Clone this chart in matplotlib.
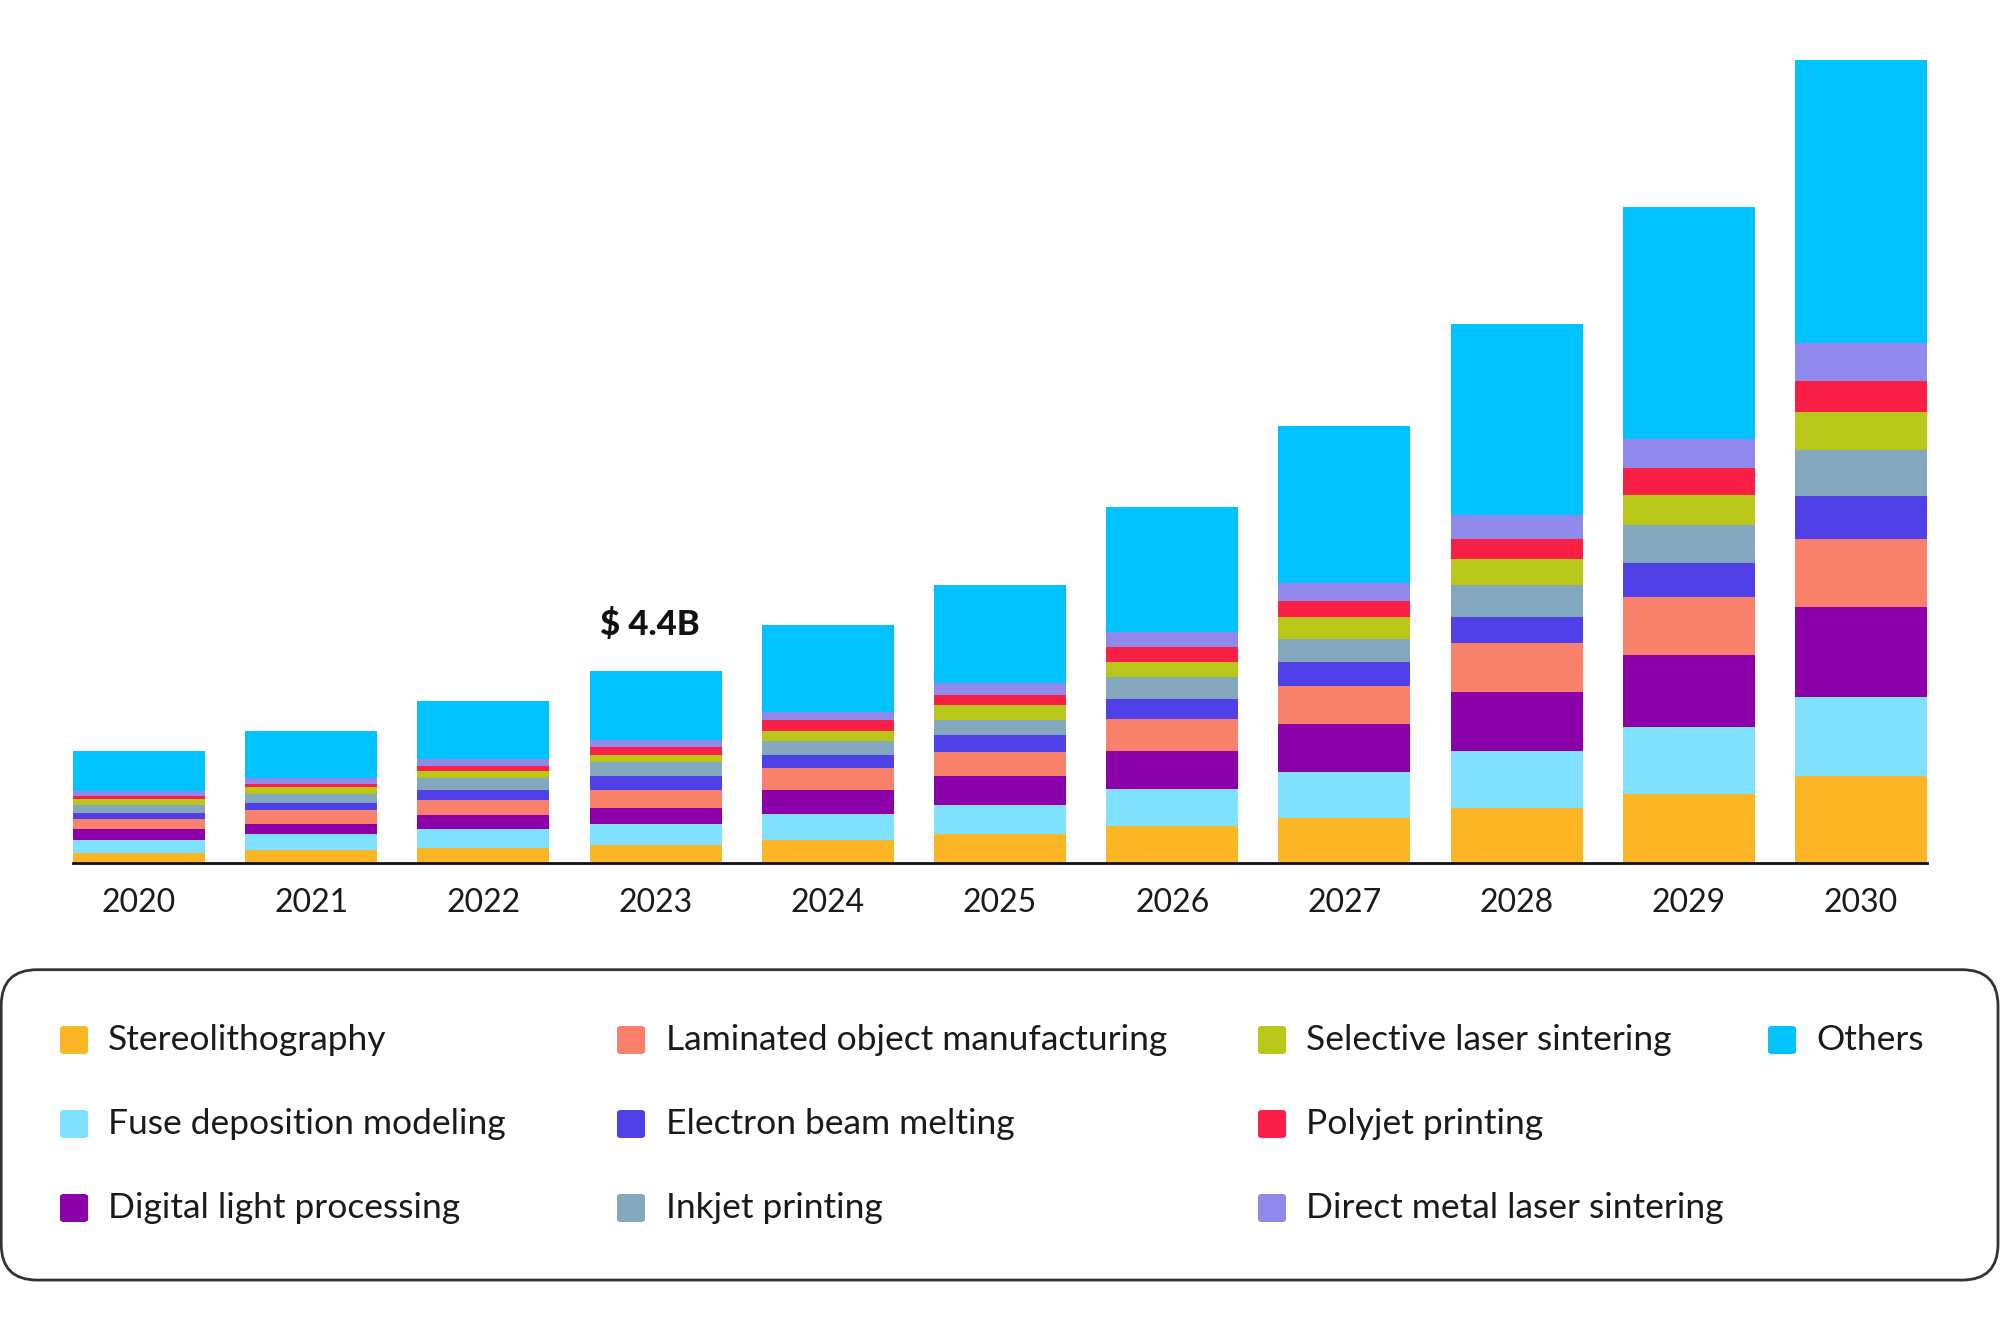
import matplotlib
matplotlib.use("Agg")
import matplotlib.pyplot as plt
from matplotlib.patches import FancyBboxPatch
import numpy as np

plt.rcParams['font.family'] = ['Lato', 'DejaVu Sans']

years = ["2020", "2021", "2022", "2023", "2024", "2025", "2026", "2027", "2028", "2029", "2030"]

stereolithography = [0.23, 0.30, 0.34, 0.41, 0.52, 0.66, 0.85, 1.02, 1.26, 1.59, 1.98]
fuse_deposition   = [0.30, 0.36, 0.43, 0.48, 0.61, 0.66, 0.85, 1.06, 1.30, 1.53, 1.81]
digital_light     = [0.25, 0.23, 0.32, 0.36, 0.55, 0.68, 0.87, 1.09, 1.34, 1.64, 2.07]
laminated_object  = [0.23, 0.32, 0.36, 0.43, 0.50, 0.55, 0.73, 0.87, 1.12, 1.33, 1.54]
electron_beam     = [0.14, 0.16, 0.23, 0.32, 0.30, 0.37, 0.44, 0.55, 0.60, 0.77, 0.99]
inkjet_printing   = [0.18, 0.20, 0.27, 0.32, 0.30, 0.36, 0.51, 0.53, 0.74, 0.87, 1.05]
selective_laser   = [0.14, 0.18, 0.16, 0.16, 0.24, 0.33, 0.35, 0.50, 0.58, 0.68, 0.87]
polyjet_printing  = [0.07, 0.05, 0.11, 0.18, 0.25, 0.23, 0.33, 0.36, 0.47, 0.61, 0.70]
direct_metal      = [0.11, 0.15, 0.15, 0.15, 0.18, 0.27, 0.35, 0.43, 0.54, 0.66, 0.87]
others            = [0.91, 1.07, 1.34, 1.59, 1.98, 2.25, 2.85, 3.58, 4.36, 5.30, 6.47]

series_names = ["Stereolithography", "Fuse deposition modeling", "Digital light processing",
                "Laminated object manufacturing", "Electron beam melting", "Inkjet printing",
                "Selective laser sintering", "Polyjet printing", "Direct metal laser sintering",
                "Others"]
series_values = [stereolithography, fuse_deposition, digital_light, laminated_object,
                 electron_beam, inkjet_printing, selective_laser, polyjet_printing,
                 direct_metal, others]
colors = ["#FBB525", "#80E0FF", "#8B00A8", "#F9806A", "#5040E8", "#83A7BC",
          "#B9C61A", "#FA2045", "#9088EA", "#00C2FF"]

annot_year = "2023"
annot_text = "$ 4.4B"

fig = plt.figure(figsize=(10, 6.66), dpi=200)
ax = fig.add_axes([0.0365, 0.352, 0.927, 0.603])

x = np.arange(len(years))
bw = 0.767
bottom = np.zeros(len(years))
for name, vals, c in zip(series_names, series_values, colors):
    v = np.array(vals)
    ax.bar(x, v, bw, bottom=bottom, color=c, edgecolor='none', linewidth=0)
    bottom += v

ax.set_xlim(-bw / 2, len(years) - 1 + bw / 2)
ax.set_ylim(0, bottom.max())
for s in ['top', 'right', 'left']:
    ax.spines[s].set_visible(False)
ax.spines['bottom'].set_color('#111111')
ax.spines['bottom'].set_linewidth(1.0)
ax.set_yticks([])
ax.set_xticks(x)
ax.set_xticklabels(years, fontsize=11.5, color='#1a1a1a')
ax.tick_params(axis='x', length=0, pad=9)

i = years.index(annot_year)
ax.annotate(annot_text, (x[i], bottom[i]), xytext=(-2, 16.5), textcoords='offset points',
            ha='center', va='center', fontsize=12.5, fontweight='black', color='#111111')

# legend box
box = FancyBboxPatch((0.0006, 0.039), 0.9984, 0.233, boxstyle="round,pad=0,rounding_size=0.018",
                     transform=fig.transFigure, facecolor='white', edgecolor='#333333',
                     linewidth=1.0, mutation_aspect=1.5)
fig.patches.append(box)

col_marker_x = [74, 631, 1272, 1782]
col_text_x = [108, 666, 1306, 1816]
row_y = [1040, 1124, 1208]
W, H = 2000.0, 1332.0
msz = 28
for k, (name, c) in enumerate(zip(series_names, colors)):
    col, row = k // 3, k % 3
    mx, my = col_marker_x[col], row_y[row]
    sq = FancyBboxPatch(((mx - msz / 2) / W, 1 - (my + msz / 2) / H), msz / W, msz / H,
                        boxstyle="round,pad=0,rounding_size=0.002",
                        transform=fig.transFigure, facecolor=c, edgecolor='none')
    fig.patches.append(sq)
    fig.text(col_text_x[col] / W, 1 - my / H, name, ha='left', va='center',
             fontsize=12.75, color='#1a1a1a')

fig.savefig("out.png", dpi=200, facecolor='white')
